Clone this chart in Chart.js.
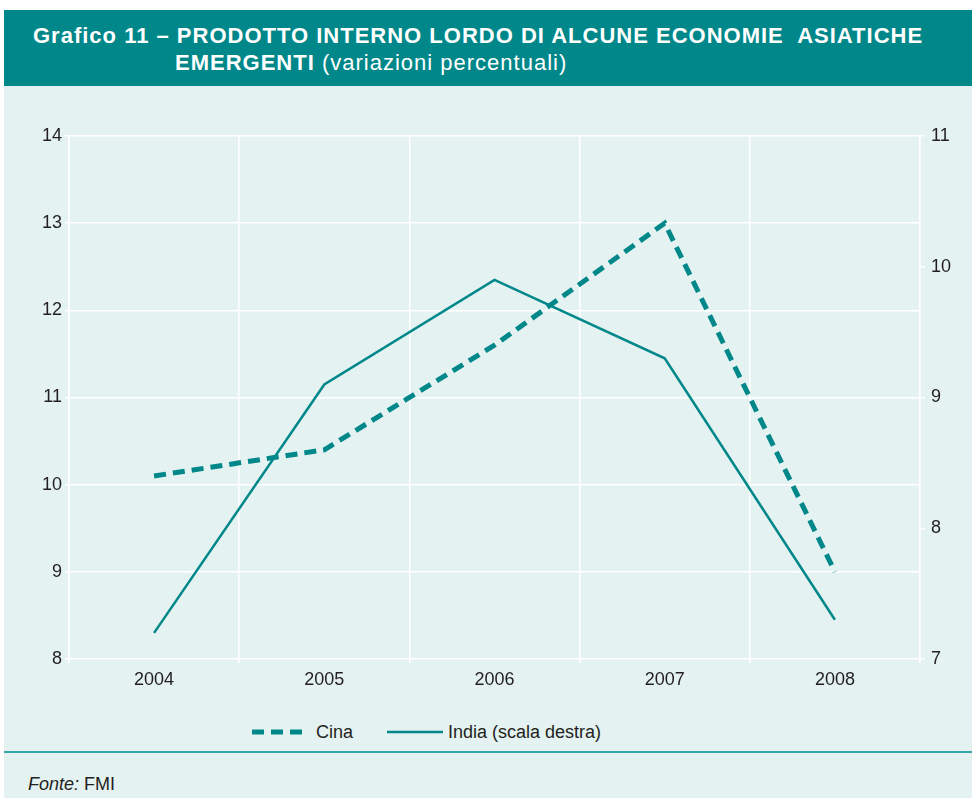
<!DOCTYPE html>
<html>
<head>
<meta charset="utf-8">
<script src="https://cdn.jsdelivr.net/npm/chart.js@4"></script>
<style>
  html, body { margin: 0; padding: 0; background: #fff; }
  body { width: 972px; height: 798px; position: relative; overflow: hidden; font-family: "Liberation Sans", Arial, sans-serif; color: #231f20; }
  #panel { position: absolute; left: 4px; top: 10px; right: 0; bottom: 0; background: #e4f2f1; }
  #head { position: absolute; left: 4px; top: 10px; right: 0; height: 76px; background: #00878a; color: #fff; }
  #head div { font-size: 22px; letter-spacing: 1px; white-space: nowrap; position: absolute; line-height: 26px; }
  #head .l1 { left: 29px; top: 13px; font-weight: bold; }
  #head .l2 { left: 171px; top: 40px; }
  #wrap { position: absolute; left: 0; top: 100px; width: 972px; height: 600px; }
  #legend { position: absolute; top: 721px; left: 252px; font-size: 18px; height: 22px; white-space: nowrap; }
  #legend span { position: absolute; top: 0; line-height: 22px; }
  #legend svg { position: absolute; top: 0; }
  #sep { position: absolute; left: 4px; right: 0; top: 751px; height: 2px; background: #3aa5a3; }
  #fonte { position: absolute; left: 28px; top: 773px; font-size: 18px; line-height: 22px; }
</style>
</head>
<body>
<div id="panel"></div>
<div id="head">
  <div class="l1">Grafico 11 – PRODOTTO INTERNO LORDO DI ALCUNE ECONOMIE&nbsp; ASIATICHE</div>
  <div class="l2"><b>EMERGENTI</b> (variazioni percentuali)</div>
</div>
<div id="wrap"><canvas id="grafico" width="972" height="600"></canvas></div>
<div id="legend">
  <svg width="54" height="22" style="left:0"><line x1="0" y1="11" x2="52" y2="11" stroke="#00878a" stroke-width="5" stroke-dasharray="12,7"/></svg>
  <span style="left:64px">Cina</span>
  <svg width="58" height="22" style="left:135px"><line x1="0" y1="11" x2="56" y2="11" stroke="#00878a" stroke-width="2.5"/></svg>
  <span style="left:196px">India (scala destra)</span>
</div>
<div id="sep"></div>
<div id="fonte"><i>Fonte:</i> FMI</div>

<script>
const anni = ['2004', '2005', '2006', '2007', '2008'];
const cina = [10.1, 10.4, 11.6, 13.0, 9.0];
const india = [7.2, 9.1, 9.9, 9.3, 7.3];
const tickSinistra = [8, 9, 10, 11, 12, 13, 14];
const tickDestra = [7, 8, 9, 10, 11];

const teal = '#00878a';
const font = { family: '"Liberation Sans", Arial, sans-serif', size: 18 };

const ctx = document.getElementById('grafico').getContext('2d');
window.chart = new Chart(ctx, {
  type: 'line',
  data: {
    labels: anni,
    datasets: [
      { label: 'Cina', data: cina, yAxisID: 'y', borderColor: teal, borderWidth: 5, borderDash: [12, 7], borderCapStyle: 'butt', pointRadius: 0, tension: 0, fill: false },
      { label: 'India (scala destra)', data: india, yAxisID: 'y1', borderColor: teal, borderWidth: 2.5, pointRadius: 0, tension: 0, fill: false }
    ]
  },
  options: {
    responsive: false,
    animation: false,
    layout: { padding: { top: 36, left: 0, right: 0, bottom: 0 } },
    plugins: { legend: { display: false }, tooltip: { enabled: false } },
    scales: {
      x: {
        offset: true,
        grid: { offset: true, color: '#ffffff', lineWidth: 1.5, tickLength: 4 },
        border: { display: false },
        ticks: { color: '#231f20', font: font, padding: 6 },
        afterFit: s => { s.height = 41; }
      },
      y: {
        position: 'left',
        min: 8, max: 14,
        afterBuildTicks: s => { s.ticks = tickSinistra.map(v => ({ value: v })); },
        grid: { color: '#ffffff', lineWidth: 1.5, tickLength: 4 },
        border: { color: '#ffffff', width: 1.5 },
        ticks: { color: '#231f20', font: font, padding: 3 },
        afterFit: s => { s.width = 69; }
      },
      y1: {
        position: 'right',
        min: 7, max: 11,
        afterBuildTicks: s => { s.ticks = tickDestra.map(v => ({ value: v })); },
        grid: { drawOnChartArea: false, color: '#ffffff', lineWidth: 1.5, tickLength: 5 },
        border: { color: '#ffffff', width: 1.5 },
        ticks: { color: '#231f20', font: font, padding: 6 },
        afterFit: s => { s.width = 52; }
      }
    }
  }
});
</script>
</body>
</html>
